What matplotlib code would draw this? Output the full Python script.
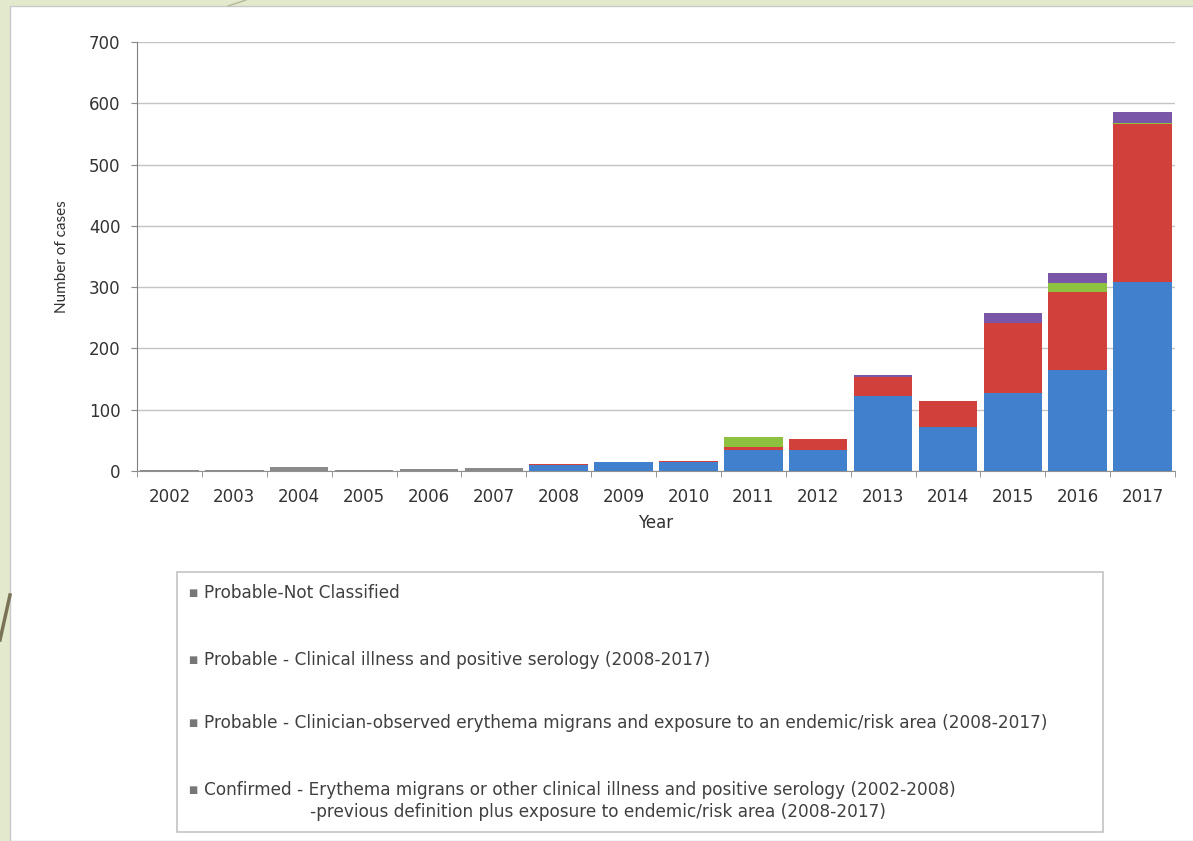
import matplotlib.pyplot as plt
import matplotlib.patches as mpatches
import numpy as np

# Datos
years = ['2002', '2003', '2004', '2005', '2006', '2007', '2008', '2009',
         '2010', '2011', '2012', '2013', '2014', '2015', '2016', '2017']
confirmed = [1, 1, 6, 1, 3, 5, 10, 14, 15, 34, 34, 123, 72, 127, 165, 308]
probable_em = [0, 0, 0, 0, 0, 0, 2, 1, 1, 5, 18, 30, 43, 114, 127, 258]
probable_serology = [0, 0, 0, 0, 0, 0, 0, 0, 0, 16, 0, 0, 0, 0, 15, 2]
probable_nc = [0, 0, 0, 0, 0, 0, 0, 0, 0, 0, 0, 3, 0, 17, 16, 18]

legend_labels = [
    'Probable-Not Classified',
    'Probable - Clinical illness and positive serology (2008-2017)',
    'Probable - Clinician-observed erythema migrans and exposure to an endemic/risk area (2008-2017)',
    'Confirmed - Erythema migrans or other clinical illness and positive serology (2002-2008)',
]
legend_line2 = '-previous definition plus exposure to endemic/risk area (2008-2017)'

c_blue = '#4080cc'
c_red = '#d2403c'
c_green = '#8ec13f'
c_purple = '#7a56a8'
c_grey = '#8a8a8a'

W, H = 1193, 841
fig = plt.figure(figsize=(W / 100, H / 100), dpi=100)
fig.patch.set_facecolor('#e3e9cc')

# Panel blanco de la diapositiva
fig.patches.append(mpatches.Rectangle((10 / W, 0), 1, 1 - 6 / H, transform=fig.transFigure,
                                      facecolor='white', edgecolor='#c9c9c9', lw=1, zorder=-5))
# Líneas decorativas
fig.add_artist(plt.Line2D([0, 10 / W], [1 - 640 / H, 1 - 595 / H], color='#7a7358', lw=2.5))
fig.add_artist(plt.Line2D([228 / W, 246 / W], [1 - 6 / H, 1.0], color='#b5b89a', lw=1))

ax = fig.add_axes([137 / W, 1 - 471 / H, 1038 / W, 429 / H])
ax.set_facecolor('white')
x = np.arange(len(years))
bw = 0.9
base_colors = [c_grey if int(y) < 2008 else c_blue for y in years]

b0 = np.zeros(len(years))
ax.bar(x, confirmed, bw, bottom=b0, color=base_colors, zorder=3)
b0 = b0 + np.array(confirmed)
ax.bar(x, probable_em, bw, bottom=b0, color=c_red, zorder=3)
b0 = b0 + np.array(probable_em)
ax.bar(x, probable_serology, bw, bottom=b0, color=c_green, zorder=3)
b0 = b0 + np.array(probable_serology)
ax.bar(x, probable_nc, bw, bottom=b0, color=c_purple, zorder=3)

ax.set_xlim(-0.5, len(years) - 0.5)
ax.set_ylim(0, 700)
ax.set_yticks(range(0, 701, 100))
ax.grid(axis='y', color='#c4c4c4', lw=1, zorder=0)
ax.set_xticks(x)
ax.set_xticklabels(years)
ax.set_xticks(np.arange(-0.5, len(years)), minor=True)
ax.tick_params(axis='x', which='major', length=0, pad=12, labelsize=12, labelcolor='#333333')
ax.tick_params(axis='x', which='minor', length=4, color='#888888')
ax.tick_params(axis='y', length=4, color='#888888', labelsize=12, labelcolor='#333333', pad=8)
for s in ['top', 'right']:
    ax.spines[s].set_visible(False)
ax.spines['left'].set_color('#808080')
ax.spines['bottom'].set_color('#909090')

ax.set_xlabel('Year', fontsize=12, color='#303030', family='DejaVu Sans', labelpad=6)
ax.set_ylabel('Number of cases', fontsize=11, color='#303030', family='Lato', labelpad=14)

# Leyenda manual
fig.patches.append(mpatches.Rectangle((177 / W, 1 - 832 / H), 926 / W, 260 / H,
                                      transform=fig.transFigure, facecolor='white',
                                      edgecolor='#c4c4c4', lw=1.2, zorder=1))
leg_y = [593, 660, 723, 790]
for lab, yy in zip(legend_labels, leg_y):
    fig.text(188 / W, 1 - yy / H, '■', fontsize=7, color='#777777', va='center', ha='left')
    fig.text(204 / W, 1 - yy / H, lab, fontsize=12.2, color='#404040', va='center', ha='left',
             family='DejaVu Sans')
fig.text(310 / W, 1 - 812 / H, legend_line2, fontsize=12.2, color='#404040', va='center',
         ha='left', family='DejaVu Sans')

plt.savefig('out.png', dpi=100, facecolor=fig.get_facecolor())
